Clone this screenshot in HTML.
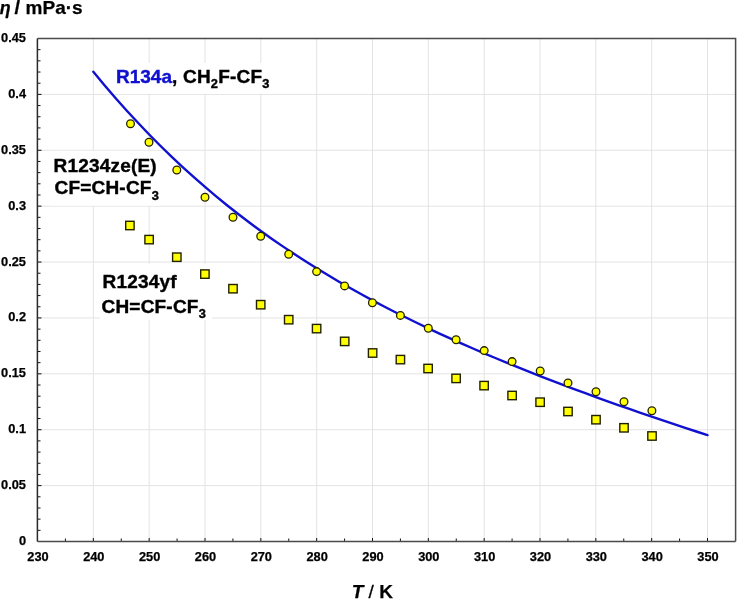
<!DOCTYPE html><html><head><meta charset="utf-8"><style>html,body{margin:0;padding:0;background:#fff;}svg{display:block;}text{font-family:"Liberation Sans",sans-serif;font-weight:bold;fill:#000;stroke:#000;stroke-width:0.25px;}.lg{letter-spacing:0.2px;stroke-width:0.4px;}</style></head><body>
<svg width="737" height="599" viewBox="0 0 737 599">
<rect width="737" height="599" fill="#fff"/>
<path d="M93.33 38.5V541.5M149.17 38.5V541.5M205.00 38.5V541.5M260.83 38.5V541.5M316.67 38.5V541.5M372.50 38.5V541.5M428.33 38.5V541.5M484.17 38.5V541.5M540.00 38.5V541.5M595.83 38.5V541.5M651.67 38.5V541.5M707.50 38.5V541.5M37.5 485.61H735.5M37.5 429.72H735.5M37.5 373.83H735.5M37.5 317.94H735.5M37.5 262.06H735.5M37.5 206.17H735.5M37.5 150.28H735.5M37.5 94.39H735.5" stroke="#e3e3e3" stroke-width="1" fill="none"/>
<rect x="50" y="150.8" width="110" height="54.9" fill="#fff"/>
<rect x="100" y="264" width="112" height="56" fill="#fff"/>
<rect x="112" y="63" width="162" height="30.8" fill="#fff"/>
<path d="M37.5 530.32h3M37.5 519.14h3M37.5 507.97h3M37.5 496.79h3M37.5 485.61h4M37.5 474.43h3M37.5 463.26h3M37.5 452.08h3M37.5 440.90h3M37.5 429.72h4M37.5 418.54h3M37.5 407.37h3M37.5 396.19h3M37.5 385.01h3M37.5 373.83h4M37.5 362.66h3M37.5 351.48h3M37.5 340.30h3M37.5 329.12h3M37.5 317.94h4M37.5 306.77h3M37.5 295.59h3M37.5 284.41h3M37.5 273.23h3M37.5 262.06h4M37.5 250.88h3M37.5 239.70h3M37.5 228.52h3M37.5 217.34h3M37.5 206.17h4M37.5 194.99h3M37.5 183.81h3M37.5 172.63h3M37.5 161.46h3M37.5 150.28h4M37.5 139.10h3M37.5 127.92h3M37.5 116.74h3M37.5 105.57h3M37.5 94.39h4M37.5 83.21h3M37.5 72.03h3M37.5 60.86h3M37.5 49.68h3M65.42 541.5v-3M93.33 541.5v-3.5M121.25 541.5v-3M149.17 541.5v-3.5M177.08 541.5v-3M205.00 541.5v-3.5M232.92 541.5v-3M260.83 541.5v-3.5M288.75 541.5v-3M316.67 541.5v-3.5M344.58 541.5v-3M372.50 541.5v-3.5M400.42 541.5v-3M428.33 541.5v-3.5M456.25 541.5v-3M484.17 541.5v-3.5M512.08 541.5v-3M540.00 541.5v-3.5M567.92 541.5v-3M595.83 541.5v-3.5M623.75 541.5v-3M651.67 541.5v-3.5M679.58 541.5v-3M707.50 541.5v-3.5" stroke="#111" stroke-width="1" fill="none"/>
<path d="M37.5 38.5H735.6V541.5" stroke="#4a4a4a" stroke-width="1.5" fill="none"/>
<path d="M37.5 541.5H735.6" stroke="#4a4a4a" stroke-width="1.5" fill="none"/>
<path d="M37.4 38.5V541.5" stroke="#2a2a2a" stroke-width="1.5" fill="none"/>
<polyline points="93.33,71.68 104.50,85.16 115.67,98.16 126.83,110.70 138.00,122.80 149.17,134.46 160.33,145.72 171.50,156.57 182.67,167.05 193.83,177.16 205.00,186.92 216.17,196.35 227.33,205.45 238.50,214.25 249.67,222.75 260.83,230.97 272.00,238.92 283.17,246.62 294.33,254.07 305.50,261.29 316.67,268.29 327.83,275.07 339.00,281.66 350.17,288.06 361.33,294.28 372.50,300.33 383.67,306.22 394.83,311.96 406.00,317.55 417.17,323.01 428.33,328.34 439.50,333.55 450.67,338.64 461.83,343.63 473.00,348.52 484.17,353.31 495.33,358.01 506.50,362.63 517.67,367.17 528.83,371.64 540.00,376.03 551.17,380.36 562.33,384.62 573.50,388.82 584.67,392.96 595.83,397.05 607.00,401.08 618.17,405.06 629.33,408.99 640.50,412.87 651.67,416.70 662.83,420.48 674.00,424.20 685.17,427.88 696.33,431.50 707.50,435.07" stroke="#1010d0" stroke-width="2.4" fill="none" stroke-linecap="round" stroke-linejoin="round"/>
<circle cx="130.5" cy="123.75" r="3.85" fill="#ffff00" stroke="#222200" stroke-width="1.3"/>
<circle cx="149" cy="142.2" r="3.85" fill="#ffff00" stroke="#222200" stroke-width="1.3"/>
<circle cx="176.8" cy="170" r="3.85" fill="#ffff00" stroke="#222200" stroke-width="1.3"/>
<circle cx="205" cy="197.2" r="3.85" fill="#ffff00" stroke="#222200" stroke-width="1.3"/>
<circle cx="233" cy="217.3" r="3.85" fill="#ffff00" stroke="#222200" stroke-width="1.3"/>
<circle cx="260.7" cy="236.2" r="3.85" fill="#ffff00" stroke="#222200" stroke-width="1.3"/>
<circle cx="288.7" cy="254.2" r="3.85" fill="#ffff00" stroke="#222200" stroke-width="1.3"/>
<circle cx="316.6" cy="271.6" r="3.85" fill="#ffff00" stroke="#222200" stroke-width="1.3"/>
<circle cx="344.6" cy="285.9" r="3.85" fill="#ffff00" stroke="#222200" stroke-width="1.3"/>
<circle cx="372.4" cy="302.8" r="3.85" fill="#ffff00" stroke="#222200" stroke-width="1.3"/>
<circle cx="400.4" cy="315.4" r="3.85" fill="#ffff00" stroke="#222200" stroke-width="1.3"/>
<circle cx="428.3" cy="328.3" r="3.85" fill="#ffff00" stroke="#222200" stroke-width="1.3"/>
<circle cx="456.1" cy="339.7" r="3.85" fill="#ffff00" stroke="#222200" stroke-width="1.3"/>
<circle cx="484.2" cy="350.6" r="3.85" fill="#ffff00" stroke="#222200" stroke-width="1.3"/>
<circle cx="512.1" cy="361.6" r="3.85" fill="#ffff00" stroke="#222200" stroke-width="1.3"/>
<circle cx="540.2" cy="371" r="3.85" fill="#ffff00" stroke="#222200" stroke-width="1.3"/>
<circle cx="568" cy="382.9" r="3.85" fill="#ffff00" stroke="#222200" stroke-width="1.3"/>
<circle cx="596" cy="391.7" r="3.85" fill="#ffff00" stroke="#222200" stroke-width="1.3"/>
<circle cx="624" cy="401.8" r="3.85" fill="#ffff00" stroke="#222200" stroke-width="1.3"/>
<circle cx="651.9" cy="410.8" r="3.85" fill="#ffff00" stroke="#222200" stroke-width="1.3"/>
<rect x="125.70" y="221.30" width="8.4" height="8.4" fill="#ffff00" stroke="#222200" stroke-width="1.4"/>
<rect x="144.90" y="235.40" width="8.4" height="8.4" fill="#ffff00" stroke="#222200" stroke-width="1.4"/>
<rect x="172.60" y="253.00" width="8.4" height="8.4" fill="#ffff00" stroke="#222200" stroke-width="1.4"/>
<rect x="200.70" y="269.90" width="8.4" height="8.4" fill="#ffff00" stroke="#222200" stroke-width="1.4"/>
<rect x="228.80" y="284.50" width="8.4" height="8.4" fill="#ffff00" stroke="#222200" stroke-width="1.4"/>
<rect x="256.50" y="300.50" width="8.4" height="8.4" fill="#ffff00" stroke="#222200" stroke-width="1.4"/>
<rect x="284.50" y="315.50" width="8.4" height="8.4" fill="#ffff00" stroke="#222200" stroke-width="1.4"/>
<rect x="312.40" y="324.40" width="8.4" height="8.4" fill="#ffff00" stroke="#222200" stroke-width="1.4"/>
<rect x="340.50" y="337.20" width="8.4" height="8.4" fill="#ffff00" stroke="#222200" stroke-width="1.4"/>
<rect x="368.40" y="348.80" width="8.4" height="8.4" fill="#ffff00" stroke="#222200" stroke-width="1.4"/>
<rect x="396.20" y="355.40" width="8.4" height="8.4" fill="#ffff00" stroke="#222200" stroke-width="1.4"/>
<rect x="423.90" y="364.30" width="8.4" height="8.4" fill="#ffff00" stroke="#222200" stroke-width="1.4"/>
<rect x="451.90" y="374.20" width="8.4" height="8.4" fill="#ffff00" stroke="#222200" stroke-width="1.4"/>
<rect x="479.90" y="381.40" width="8.4" height="8.4" fill="#ffff00" stroke="#222200" stroke-width="1.4"/>
<rect x="507.90" y="391.30" width="8.4" height="8.4" fill="#ffff00" stroke="#222200" stroke-width="1.4"/>
<rect x="535.90" y="398.00" width="8.4" height="8.4" fill="#ffff00" stroke="#222200" stroke-width="1.4"/>
<rect x="563.80" y="407.30" width="8.4" height="8.4" fill="#ffff00" stroke="#222200" stroke-width="1.4"/>
<rect x="591.80" y="415.50" width="8.4" height="8.4" fill="#ffff00" stroke="#222200" stroke-width="1.4"/>
<rect x="619.80" y="423.60" width="8.4" height="8.4" fill="#ffff00" stroke="#222200" stroke-width="1.4"/>
<rect x="647.80" y="431.80" width="8.4" height="8.4" fill="#ffff00" stroke="#222200" stroke-width="1.4"/>
<text x="26" y="545.00" font-size="12.8" text-anchor="end">0</text>
<text x="26" y="489.11" font-size="12.8" text-anchor="end">0.05</text>
<text x="26" y="433.22" font-size="12.8" text-anchor="end">0.1</text>
<text x="26" y="377.33" font-size="12.8" text-anchor="end">0.15</text>
<text x="26" y="321.44" font-size="12.8" text-anchor="end">0.2</text>
<text x="26" y="265.56" font-size="12.8" text-anchor="end">0.25</text>
<text x="26" y="209.67" font-size="12.8" text-anchor="end">0.3</text>
<text x="26" y="153.78" font-size="12.8" text-anchor="end">0.35</text>
<text x="26" y="97.89" font-size="12.8" text-anchor="end">0.4</text>
<text x="26" y="42.00" font-size="12.8" text-anchor="end">0.45</text>
<text x="38.00" y="561.3" font-size="12.8" text-anchor="middle">230</text>
<text x="93.83" y="561.3" font-size="12.8" text-anchor="middle">240</text>
<text x="149.67" y="561.3" font-size="12.8" text-anchor="middle">250</text>
<text x="205.50" y="561.3" font-size="12.8" text-anchor="middle">260</text>
<text x="261.33" y="561.3" font-size="12.8" text-anchor="middle">270</text>
<text x="317.17" y="561.3" font-size="12.8" text-anchor="middle">280</text>
<text x="373.00" y="561.3" font-size="12.8" text-anchor="middle">290</text>
<text x="428.83" y="561.3" font-size="12.8" text-anchor="middle">300</text>
<text x="484.67" y="561.3" font-size="12.8" text-anchor="middle">310</text>
<text x="540.50" y="561.3" font-size="12.8" text-anchor="middle">320</text>
<text x="596.33" y="561.3" font-size="12.8" text-anchor="middle">330</text>
<text x="652.17" y="561.3" font-size="12.8" text-anchor="middle">340</text>
<text x="708.00" y="561.3" font-size="12.8" text-anchor="middle">350</text>
<text x="-0.2" y="13.9" font-size="17.8" font-family="&quot;Liberation Serif&quot;, serif" font-style="italic" stroke-width="0">η</text>
<text x="14.6" y="13.7" font-size="20.5" font-weight="normal" stroke-width="0.2">/</text>
<text x="25.6" y="13.9" font-size="19">mPa·s</text>
<text x="351.7" y="598" font-size="19"><tspan font-style="italic">T</tspan> <tspan font-weight="normal" stroke-width="0.3">/</tspan> K</text>
<text class="lg" x="116" y="82.8" font-size="19"><tspan fill="#1010d0" stroke="#1010d0" letter-spacing="0">R134a</tspan>, CH<tspan font-size="12.8" dy="5.3">2</tspan><tspan dy="-5.3">F-CF</tspan><tspan font-size="12.8" dy="5.3">3</tspan></text>
<text x="53.5" y="172" font-size="19" class="lg">R1234ze(E)</text>
<text x="54.5" y="194.1" font-size="19" class="lg">CF=CH-CF<tspan font-size="12.8" dy="5.4">3</tspan></text>
<text x="102.5" y="288.2" font-size="19" class="lg">R1234yf</text>
<text x="101.5" y="312.9" font-size="19" class="lg">CH=CF-CF<tspan font-size="12.8" dy="5.4">3</tspan></text>
</svg></body></html>
